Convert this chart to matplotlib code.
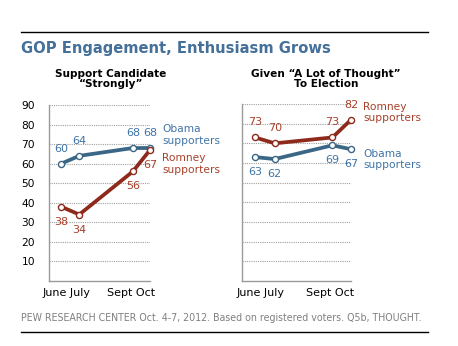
import matplotlib.pyplot as plt

# survey positions along each panel (June, July, Sept, Oct)
months = ["June", "July", "Sept", "Oct"]
x_pos = [0.12, 0.30, 0.83, 1.0]

strong_obama = [60, 64, 68, 68]
strong_romney = [38, 34, 56, 67]
thought_romney = [73, 70, 73, 82]
thought_obama = [63, 62, 69, 67]

y_ticks = [10, 20, 30, 40, 50, 60, 70, 80, 90]

OBAMA = "#3b6786"
OBAMA_TXT = "#3f74a6"
ROMNEY = "#8e2a1c"
ROMNEY_TXT = "#a8402a"
GRID = "#a0a0a0"

plt.rcParams['font.family'] = ['DejaVu Sans']

W, H = 458, 346
fig = plt.figure(figsize=(W / 100, H / 100), dpi=100)


def px_axes(x0, y0, x1, y1):
    return fig.add_axes([x0 / W, 1 - y1 / H, (x1 - x0) / W, (y1 - y0) / H])


def draw_panel(ax, upper, lower, upper_col, upper_txt, lower_col, lower_txt,
               upper_name, lower_name, upper_name_dy, lower_name_dy, ticklabels):
    ax.set_xlim(0, 1.0)
    ax.set_ylim(0, 90)
    for t in y_ticks:
        ax.axhline(t, color=GRID, lw=0.8, ls=(0, (1, 1)), zorder=0)
    for s in ["top", "right"]:
        ax.spines[s].set_visible(False)
    for s in ["left", "bottom"]:
        ax.spines[s].set_color("#9a9a9a")
        ax.spines[s].set_linewidth(1.0)
    ax.set_xticks([])
    ax.set_yticks(y_ticks)
    ax.tick_params(axis="y", length=0, pad=10, labelsize=7.7)
    if not ticklabels:
        ax.set_yticklabels([])
    ax.patch.set_visible(False)

    for vals, col, txt, dy in [(upper, upper_col, upper_txt, 15),
                               (lower, lower_col, lower_txt, -15)]:
        ax.plot(x_pos, vals, color=col, lw=2.7, marker="o", ms=4.4,
                mfc="white", mec=col, mew=1.0, clip_on=False, zorder=3)
        for x, v in zip(x_pos, vals):
            ax.annotate(str(v), (x, v), xytext=(0, dy), textcoords="offset pixels",
                        ha="center", va="center", color=txt, fontsize=8)

    ax.annotate(upper_name, (x_pos[-1], upper[-1]), xytext=(12, upper_name_dy),
                textcoords="offset pixels", ha="left", va="center",
                color=upper_txt, fontsize=7.7, linespacing=1.15, annotation_clip=False)
    ax.annotate(lower_name, (x_pos[-1], lower[-1]), xytext=(12, lower_name_dy),
                textcoords="offset pixels", ha="left", va="center",
                color=lower_txt, fontsize=7.7, linespacing=1.15, annotation_clip=False)

    ax.text(0.17, -0.07, " ".join(months[:2]), transform=ax.transAxes,
            ha="center", va="center", fontsize=8)
    ax.text(0.81, -0.07, " ".join(months[2:]), transform=ax.transAxes,
            ha="center", va="center", fontsize=8)


ax1 = px_axes(49, 105, 150, 281)
draw_panel(ax1, strong_obama, strong_romney, OBAMA, OBAMA_TXT, ROMNEY, ROMNEY_TXT,
           "Obama\nsupporters", "Romney\nsupporters", 13, -14, True)

ax2 = px_axes(242, 104, 351, 281)
draw_panel(ax2, thought_romney, thought_obama, ROMNEY, ROMNEY_TXT, OBAMA, OBAMA_TXT,
           "Romney\nsupporters", "Obama\nsupporters", 7, -10, False)

# titles and rules
fig.add_artist(plt.Line2D([21 / W, 428 / W], [1 - 32 / H, 1 - 32 / H], color="black", lw=1.0))
fig.add_artist(plt.Line2D([21 / W, 428 / W], [1 - 332 / H, 1 - 332 / H], color="black", lw=1.0))
fig.text(21 / W, 1 - 48 / H, "GOP Engagement, Enthusiasm Grows", ha="left", va="center",
         fontsize=10.6, fontweight="bold", color="#44709a")
fig.text(111 / W, 1 - 79 / H, "Support Candidate\n\u201cStrongly\u201d", ha="center", va="center",
         fontsize=7.6, fontweight="bold", linespacing=1.1)
fig.text(326 / W, 1 - 79 / H, "Given \u201cA Lot of Thought\u201d\nTo Election", ha="center",
         va="center", fontsize=7.6, fontweight="bold", linespacing=1.1)
fig.text(21 / W, 1 - 318 / H,
         "PEW RESEARCH CENTER Oct. 4-7, 2012. Based on registered voters. Q5b, THOUGHT.",
         ha="left", va="center", fontsize=6.85, color="#808080")

fig.savefig("out.png", dpi=100)
